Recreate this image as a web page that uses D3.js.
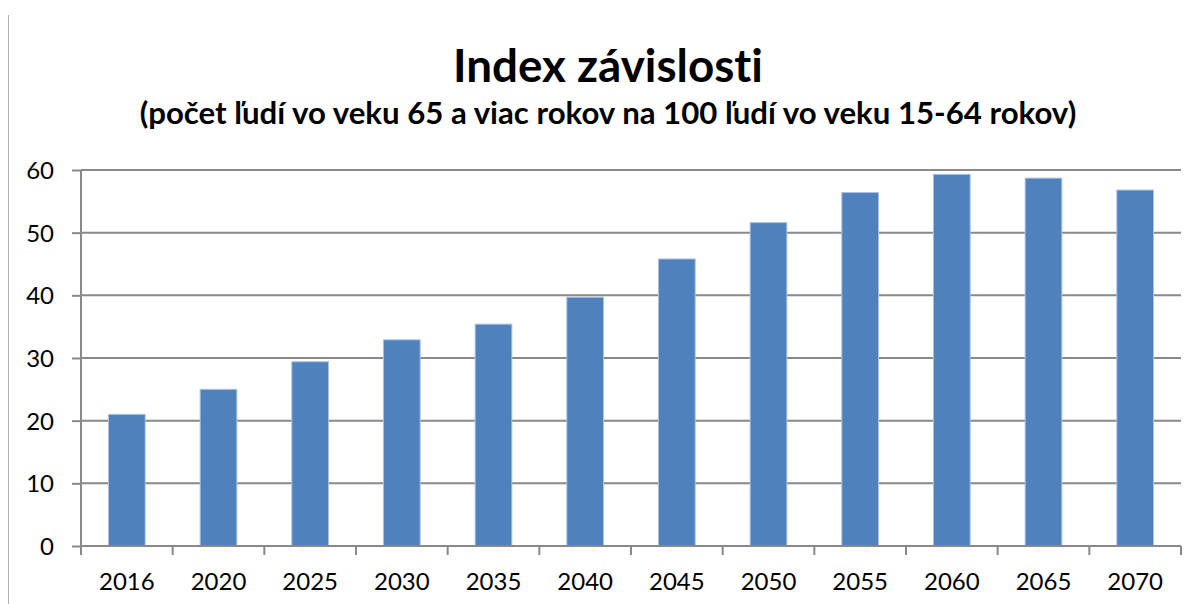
<!DOCTYPE html>
<html>
<head>
<meta charset="utf-8">
<script src="https://cdn.jsdelivr.net/npm/d3@7"></script>
<style>
  body { margin: 0; background: #fff; }
  text { font-family: Lato, "Open Sans", sans-serif; fill: #000; font-variant-ligatures: none; font-feature-settings: "liga" 0; }
</style>
</head>
<body>
<div id="chart"></div>
<script>
var svgWidth = 1198;
var svgHeight = 604;

// data
var years = ["2016", "2020", "2025", "2030", "2035", "2040", "2045", "2050", "2055", "2060", "2065", "2070"];
var values = [21.0, 25.0, 29.4, 32.9, 35.4, 39.7, 45.8, 51.6, 56.4, 59.3, 58.7, 56.8];
var yTicks = [0, 10, 20, 30, 40, 50, 60];

var titleText = "Index závislosti";
var subtitleText = "(počet ľudí vo veku 65 a viac rokov na 100 ľudí vo veku 15-64 rokov)";

var margin = { top: 170, right: 17, bottom: 58, left: 81 };
var width = svgWidth - margin.left - margin.right;
var height = svgHeight - margin.top - margin.bottom;

var svg = d3.select("#chart")
  .append("svg")
  .attr("width", svgWidth)
  .attr("height", svgHeight);

// thin border on the left edge
svg.append("line")
  .attr("x1", 8.5).attr("x2", 8.5)
  .attr("y1", 15).attr("y2", svgHeight)
  .attr("stroke", "#b0b0b0")
  .attr("stroke-width", 1);

// fit a text element to a target width
function fitText(sel, targetWidth) {
  var fs = parseFloat(sel.attr("font-size"));
  var w = sel.node().getComputedTextLength();
  sel.attr("font-size", fs * targetWidth / w);
}

var title = svg.append("text")
  .attr("x", 608)
  .attr("y", 82)
  .attr("text-anchor", "middle")
  .attr("font-weight", "bold")
  .attr("font-size", 40)
  .text(titleText);
fitText(title, 310);

var subtitle = svg.append("text")
  .attr("x", 608)
  .attr("y", 124)
  .attr("text-anchor", "middle")
  .attr("font-weight", "bold")
  .attr("font-size", 24)
  .text(subtitleText);
fitText(subtitle, 937);

var chartGroup = svg.append("g")
  .attr("transform", `translate(${margin.left}, ${margin.top})`);

var xBandScale = d3.scaleBand()
  .domain(years)
  .range([0, width])
  .paddingInner(0.6)
  .paddingOuter(0.3);

var xEdgeScale = d3.scaleLinear()
  .domain([0, years.length])
  .range([0, width]);

var yLinearScale = d3.scaleLinear()
  .domain([0, 60])
  .range([height, 0]);

// gridlines
chartGroup.append("g")
  .selectAll("line")
  .data(yTicks.filter(d => d > 0))
  .enter()
  .append("line")
  .attr("x1", 0)
  .attr("x2", width)
  .attr("y1", d => yLinearScale(d))
  .attr("y2", d => yLinearScale(d))
  .attr("stroke", "#898989")
  .attr("stroke-width", 2);

// bars
chartGroup.selectAll("rect")
  .data(values)
  .enter()
  .append("rect")
  .attr("x", (d, i) => xBandScale(years[i]))
  .attr("y", d => yLinearScale(d))
  .attr("width", xBandScale.bandwidth())
  .attr("height", d => height - yLinearScale(d))
  .attr("fill", "#4f81bd")
  .attr("stroke", "#a9c0e0")
  .attr("stroke-width", 1);

// y axis
var leftAxis = d3.axisLeft(yLinearScale)
  .tickValues(yTicks)
  .tickSize(9)
  .tickPadding(18);

var yAxis = chartGroup.append("g").call(leftAxis);
yAxis.select(".domain").remove();
yAxis.selectAll("line").attr("stroke", "#898989").attr("stroke-width", 2);
yAxis.selectAll("text")
  .attr("font-size", 24)
  .attr("dy", "0.36em")
  .attr("fill", "#000");

chartGroup.append("line")
  .attr("x1", 0).attr("x2", 0)
  .attr("y1", 0).attr("y2", height)
  .attr("stroke", "#898989")
  .attr("stroke-width", 2);

// x axis
chartGroup.append("line")
  .attr("x1", 0).attr("x2", width)
  .attr("y1", height).attr("y2", height)
  .attr("stroke", "#898989")
  .attr("stroke-width", 2);

chartGroup.append("g")
  .selectAll("line")
  .data(d3.range(years.length + 1))
  .enter()
  .append("line")
  .attr("x1", d => xEdgeScale(d))
  .attr("x2", d => xEdgeScale(d))
  .attr("y1", height)
  .attr("y2", height + 9)
  .attr("stroke", "#898989")
  .attr("stroke-width", 2);

chartGroup.append("g")
  .selectAll("text")
  .data(years)
  .enter()
  .append("text")
  .attr("x", d => xBandScale(d) + xBandScale.bandwidth() / 2)
  .attr("y", height + 44)
  .attr("text-anchor", "middle")
  .attr("font-size", 24)
  .text(d => d);
</script>
</body>
</html>
